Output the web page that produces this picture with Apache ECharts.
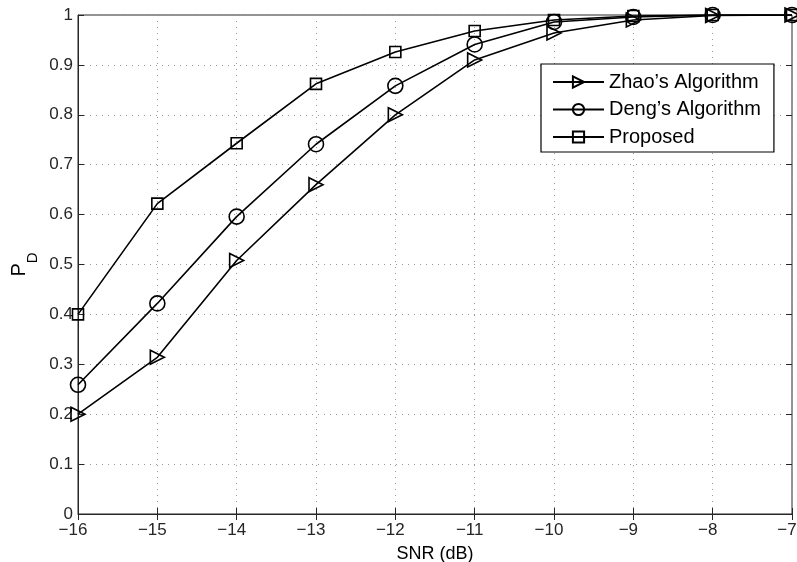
<!DOCTYPE html>
<html><head><meta charset="utf-8">
<script src="https://cdn.jsdelivr.net/npm/echarts@6/dist/echarts.min.js"></script>
<style>html,body{margin:0;padding:0;background:#fff}#c{width:797px;height:562px}</style>
</head><body><div id="c"></div>
<script>
const snr = [-16, -15, -14, -13, -12, -11, -10, -9, -8, -7];
const zhao = [0.200, 0.314, 0.508, 0.660, 0.800, 0.910, 0.964, 0.990, 0.999, 1.000];
const deng = [0.259, 0.422, 0.596, 0.741, 0.858, 0.941, 0.986, 0.996, 1.000, 1.000];
const proposed = [0.400, 0.622, 0.743, 0.862, 0.926, 0.968, 0.990, 0.998, 1.000, 1.000];
const seriesNames = ["Zhao\u2019s Algorithm", "Deng\u2019s Algorithm", "Proposed"];
const yTicks = [0, 0.1, 0.2, 0.3, 0.4, 0.5, 0.6, 0.7, 0.8, 0.9, 1];

const font = "'Liberation Sans', Arial, sans-serif";
const tri = 'path://M0,0 L10,5 L0,10 Z';
function pairs(v){ return snr.map((x,i)=>[x, v[i]]); }
function mk(name, data, symbol, size){
  return {
    name, type:'line', data: pairs(data), symbol, symbolSize: size,
    showAllSymbol:true,
    lineStyle:{color:'#000', width:1.6},
    itemStyle:{color:'rgba(255,255,255,0)', borderColor:'#000', borderWidth:1.6},
    emphasis:{disabled:true}, animation:false, z:3
  };
}
const chart = echarts.init(document.getElementById('c'), null, {renderer:'canvas'});
const axisTxt = {color:'#262626', fontFamily:font, fontSize:17};
chart.setOption({
  backgroundColor:'#fff',
  animation:false,
  grid:{left:78, right:5, top:15, bottom:48, show:true, borderColor:'#262626', borderWidth:1, containLabel:false, outerBoundsMode:'none'},
  legend:{
    data: seriesNames, orient:'vertical', left:541, top:64,
    backgroundColor:'#fff', borderColor:'#000', borderWidth:1.2,
    padding:[8,13,5,11], itemGap:7.5, itemWidth:51, itemHeight:14,
    textStyle:{color:'#000', fontFamily:font, fontSize:20, lineHeight:20},
    selectedMode:false
  },
  xAxis:[{
    type:'value', min:-16, max:-7, interval:1,
    name:'SNR (dB)', nameLocation:'middle', nameGap:31, nameMoveOverlap:false,
    nameTextStyle:{color:'#000', fontFamily:font, fontSize:18},
    axisLine:{show:true, lineStyle:{color:'#262626', width:1}},
    axisTick:{show:true, inside:true, length:6, lineStyle:{color:'#262626'}},
    axisLabel:{...axisTxt, margin:8, padding:[0,10,0,0], hideOverlap:false, formatter:v=>String(v).replace('-', '\u2212')},
    splitLine:{show:true, lineStyle:{color:'#999', type:[1,5], width:1}}
  },{
    type:'value', min:-16, max:-7, interval:1, position:'top',
    axisLine:{show:false}, axisTick:{show:true, inside:true, length:6, lineStyle:{color:'#262626'}},
    axisLabel:{show:false}, splitLine:{show:false}
  }],
  yAxis:[{
    type:'value', min:0, max:1, interval:0.1,
    name:'{p|P}{d|D}', nameLocation:'middle', nameGap:21, nameRotate:90, nameMoveOverlap:false,
    nameTextStyle:{rich:{
      p:{fontFamily:font, fontSize:20, lineHeight:20, color:'#000', verticalAlign:'top'},
      d:{fontFamily:font, fontSize:15, lineHeight:48, color:'#000', verticalAlign:'middle'}
    }},
    axisLine:{show:true, lineStyle:{color:'#262626', width:1}},
    axisTick:{show:true, inside:true, length:6, lineStyle:{color:'#262626'}},
    axisLabel:{...axisTxt, margin:5, formatter:v=>{ const t = yTicks.find(x=>Math.abs(x-v)<1e-9); return t===undefined? '' : String(+t.toFixed(1)); }},
    splitLine:{show:true, lineStyle:{color:'#999', type:[1,5], width:1}}
  },{
    type:'value', min:0, max:1, interval:0.1, position:'right',
    axisLine:{show:false}, axisTick:{show:true, inside:true, length:6, lineStyle:{color:'#262626'}},
    axisLabel:{show:false}, splitLine:{show:false}
  }],
  series:[
    mk(seriesNames[0], zhao, tri, [14,14]),
    mk(seriesNames[1], deng, 'circle', 15),
    mk(seriesNames[2], proposed, 'rect', 11)
  ]
});
</script></body></html>
